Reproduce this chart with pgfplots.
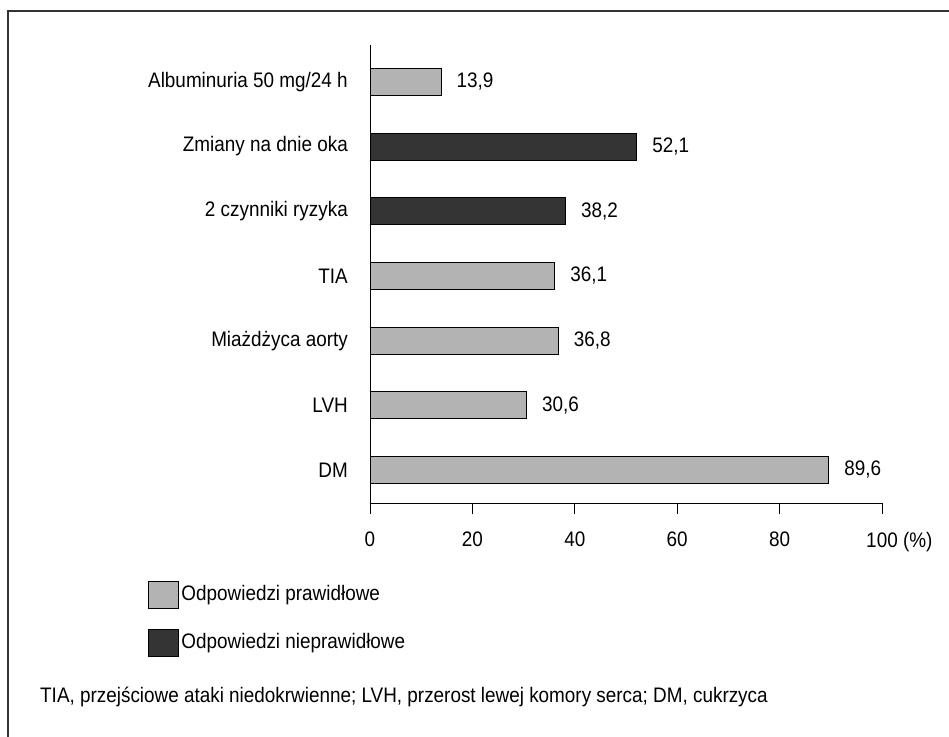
\documentclass[border=0pt]{standalone}
\usepackage{fontspec}
\setmainfont[FakeStretch=0.9]{Liberation Sans}
\usepackage{pgfplots}
\pgfplotsset{compat=1.18}
\definecolor{lg}{RGB}{179,179,179}
\definecolor{dg}{RGB}{52,52,52}
\begin{document}
\fontsize{21}{25}\selectfont
\begin{tikzpicture}[font=\fontsize{21}{25}\selectfont]
\useasboundingbox (0pt,0pt) rectangle (949pt,736pt);
\draw[line width=1.5pt, black!80] (8pt,-5pt) -- (8pt,725pt) -- (955pt,725pt);
\begin{axis}[
  at={(370pt,233pt)}, anchor=south west,
  scale only axis, width=512pt, height=458pt,
  xmin=0, xmax=100, ymin=-0.51, ymax=6.57,
  axis x line=bottom, axis y line=left,
  axis line style={-, line width=1pt, black},
  /pgf/number format/assume math mode=true,
  xtick={0,20,40,60,80,100},
  xticklabels={0,20,40,60,80,100\rlap{ (\%)}},
  tick align=outside, major tick length=11pt,
  xtick style={line width=1pt, black},
  ytick={0,1,2,3,4,5,6},
  yticklabels={DM,LVH,Miażdżyca aorty,TIA,2 czynniki ryzyka,Zmiany na dnie oka,Albuminuria 50 mg/24 h},
  ytick style={draw=none},
  yticklabel style={xshift=-4pt},
  xticklabel style={yshift=-11pt},
  point meta=x,
  nodes near coords={\pgfmathprintnumber[fixed,fixed zerofill,precision=1,use comma]{\pgfplotspointmeta}},
  nodes near coords style={anchor=west, xshift=8pt},
  legend style={at={(-0.439,-0.165)}, anchor=north west, draw=none, fill=none,
    row sep=20pt, legend cell align=left, /tikz/every even column/.append style={column sep=2pt}},
  clip=false,
]
\addplot[xbar, bar width=27pt, bar shift=0pt, fill=lg, draw=black, line width=1pt,
  legend image code/.code={\draw[fill=lg,draw=black,line width=1pt] (0pt,-13.5pt) rectangle (30pt,13.5pt);}]
  coordinates {(89.6,0) (30.6,1) (36.8,2) (36.1,3) (13.9,6)};
\addlegendentry{Odpowiedzi prawidłowe}
\addplot[xbar, bar width=27pt, bar shift=0pt, fill=dg, draw=black, line width=1pt,
  legend image code/.code={\draw[fill=dg,draw=black,line width=1pt] (0pt,-13.5pt) rectangle (30pt,13.5pt);}]
  coordinates {(38.2,4) (52.1,5)};
\addlegendentry{Odpowiedzi nieprawidłowe}
\end{axis}
\node[anchor=west, inner sep=0pt] at (40pt,39pt) {TIA, przejściowe ataki niedokrwienne; LVH, przerost lewej komory serca; DM, cukrzyca};
\end{tikzpicture}
\end{document}
